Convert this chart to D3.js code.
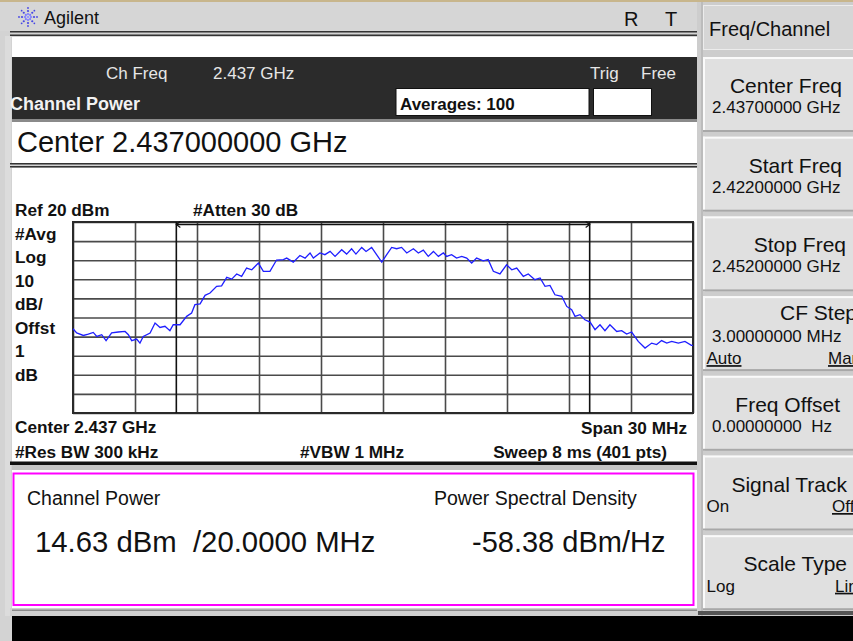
<!DOCTYPE html>
<html>
<head>
<meta charset="utf-8">
<script src="https://cdn.jsdelivr.net/npm/d3@7"></script>
<style>
  body { margin: 0; background: #d3d3d3; }
  text { font-family: "Liberation Sans", Arial, sans-serif; }
</style>
</head>
<body>
<div id="chart"></div>
<script>
// sweep settings
const startMHz = 2422, stopMHz = 2452;
const chanLoMHz = 2427, chanHiMHz = 2447;
const refDbm = 20, dbPerDiv = 10, nDiv = 10;

// trace, offset from start freq (MHz) and level (dBm)
const traceOffsetMHz = [
  0.00, 0.18, 0.50, 0.74, 0.98, 1.15, 1.39, 1.60, 1.87, 2.19,
  2.52, 2.68, 2.84, 3.08, 3.24, 3.40, 3.73, 3.97, 4.21, 4.45,
  4.69, 4.85, 5.18, 5.50, 5.74, 5.90, 6.15, 6.39, 6.63, 6.95,
  7.19, 7.44, 7.68, 7.92, 8.16, 8.40, 8.65, 8.97, 9.21, 9.53,
  9.85, 10.18, 10.34, 10.66, 10.98, 11.23, 11.47, 11.63, 11.95, 12.19,
  12.44, 12.68, 13.00, 13.24, 13.48, 13.69, 13.97, 14.18, 14.45, 14.69,
  14.94, 15.18, 15.42, 15.66, 15.90, 16.15, 16.47, 16.71, 16.95, 17.19,
  17.44, 17.68, 17.92, 18.08, 18.32, 18.56, 18.81, 19.05, 19.29, 19.53,
  19.85, 20.09, 20.34, 20.66, 20.98, 21.23, 21.47, 21.79, 22.03, 22.35,
  22.60, 22.84, 23.08, 23.32, 23.65, 23.89, 24.13, 24.29, 24.53, 24.77,
  25.02, 25.26, 25.50, 25.74, 25.98, 26.31, 26.55, 26.79, 27.03, 27.35,
  27.68, 28.00, 28.24, 28.48, 28.73, 28.97, 29.29, 29.61, 29.92, 30.00
];
const traceDbm = [
  -35.9, -38.1, -39.4, -38.7, -37.8, -39.9, -39.0, -42.1, -38.1, -37.6,
  -37.3, -39.0, -42.1, -41.3, -43.4, -39.9, -38.1, -32.9, -35.2, -34.6,
  -36.9, -33.8, -33.8, -29.4, -27.7, -23.3, -22.9, -18.4, -17.2, -13.7,
  -13.4, -9.0, -9.9, -7.2, -8.5, -4.1, -5.0, -1.5, -5.8, -5.8,
  0.1, 0.3, 1.1, -1.0, 2.5, 1.1, 3.8, 1.1, 3.8, 2.9,
  4.6, 2.0, 5.5, 3.2, 6.0, 3.2, 6.7, 4.6, 6.7, 2.9,
  -1.0, 2.9, 6.7, 6.0, 6.7, 3.8, 6.0, 3.8, 5.3, 2.0,
  4.6, 2.0, 3.8, 2.0, 2.9, 1.1, 2.0, 1.1, -1.5, 1.1,
  -0.3, 0.3, -5.8, -7.2, -2.4, -5.0, -4.1, -8.5, -7.2, -10.2,
  -9.3, -13.7, -13.2, -18.1, -18.9, -24.2, -25.9, -29.4, -28.5, -31.2,
  -32.4, -36.4, -33.8, -36.9, -33.8, -37.3, -36.9, -38.7, -37.6, -42.5,
  -46.0, -43.4, -44.2, -42.1, -43.4, -42.5, -43.4, -42.5, -44.6, -44.6
];

const leftLabels = ["#Avg", "Log", "10", "dB/", "Offst", "1", "dB"];

const softkeys = [
  { title: "Center Freq", end: 842, value: "2.43700000 GHz" },
  { title: "Start Freq", end: 842, value: "2.42200000 GHz" },
  { title: "Stop Freq", end: 846, value: "2.45200000 GHz" },
  { title: "CF Step", end: 857, value: "3.00000000 MHz", left: "Auto", right: "Man", ulLeft: true, ulRight: true },
  { title: "Freq Offset", end: 840, value: "0.00000000  Hz" },
  { title: "Signal Track", end: 847, left: "On", right: "Off", ulLeft: false, ulRight: true },
  { title: "Scale Type", end: 847, left: "Log", right: "Lin", ulLeft: false, ulRight: true }
];

const W = 853, H = 641;
const svg = d3.select("#chart").append("svg")
  .attr("width", W).attr("height", H)
  .style("display", "block");

// ---- frame / background ----
svg.append("rect").attr("width", W).attr("height", H).attr("fill", "#d3d3d3");
svg.append("rect").attr("width", W).attr("height", 2).attr("fill", "#c8b68c");
svg.append("rect").attr("x", 0).attr("y", 2).attr("width", 700).attr("height", 29).attr("fill", "#d6d6d6");
svg.append("rect").attr("x", 5).attr("y", 36).attr("width", 6).attr("height", 580).attr("fill", "#dcdcdc");

// title bar lines
svg.append("rect").attr("x", 10).attr("y", 31).attr("width", 690).attr("height", 1.5).attr("fill", "#333");
svg.append("rect").attr("x", 10).attr("y", 34.5).attr("width", 690).attr("height", 1.5).attr("fill", "#333");

// Agilent logo (dot starburst)
const logo = svg.append("g").attr("transform", "translate(28,17)");
d3.range(8).forEach(k => {
  const a = k * Math.PI / 4;
  [3, 6, 9].forEach((r, j) => {
    logo.append("circle")
      .attr("cx", Math.cos(a) * r).attr("cy", Math.sin(a) * r)
      .attr("r", j === 2 ? 0.9 : 1.1)
      .attr("fill", j === 0 ? "#7b7bff" : "#4646e6");
  });
});
logo.append("circle").attr("r", 1.3).attr("fill", "#9a9aff");
svg.append("text").attr("x", 44).attr("y", 24).attr("font-size", 18).attr("fill", "#111").text("Agilent");
svg.append("text").attr("x", 624).attr("y", 26).attr("font-size", 20).attr("fill", "#111").text("R");
svg.append("text").attr("x", 665).attr("y", 26).attr("font-size", 20).attr("fill", "#111").text("T");

// white strip
svg.append("rect").attr("x", 12).attr("y", 37).attr("width", 685).attr("height", 20).attr("fill", "#fff");

// dark status bar
svg.append("rect").attr("x", 12).attr("y", 57).attr("width", 685).attr("height", 62).attr("fill", "#2b2b2b");
svg.append("rect").attr("x", 12).attr("y", 119).attr("width", 685).attr("height", 3).attr("fill", "#8a8a8a");
const barTxt = [
  { t: "Ch Freq", x: 106 }, { t: "2.437 GHz", x: 213 },
  { t: "Trig", x: 590 }, { t: "Free", x: 641 }
];
svg.selectAll(".bartxt").data(barTxt).join("text")
  .attr("x", d => d.x).attr("y", 79)
  .attr("font-size", 17).attr("fill", "#e6e6e6").text(d => d.t);
svg.append("text").attr("x", 10).attr("y", 110).attr("font-size", 18)
  .attr("font-weight", "bold").attr("fill", "#f2f2f2").text("Channel Power");
svg.append("rect").attr("x", 396).attr("y", 88.5).attr("width", 193).attr("height", 27)
  .attr("fill", "#fff").attr("stroke", "#111").attr("stroke-width", 1);
svg.append("rect").attr("x", 593.5).attr("y", 88.5).attr("width", 58).attr("height", 27)
  .attr("fill", "#fff").attr("stroke", "#111").attr("stroke-width", 1);
svg.append("text").attr("x", 400).attr("y", 110).attr("font-size", 17)
  .attr("font-weight", "bold").attr("fill", "#111").text("Averages: 100");

// center freq box
svg.append("rect").attr("x", 12).attr("y", 122).attr("width", 685).attr("height", 41).attr("fill", "#fff");
svg.append("text").attr("x", 17).attr("y", 152).attr("font-size", 29).attr("fill", "#111")
  .text("Center 2.437000000 GHz");
svg.append("rect").attr("x", 10).attr("y", 163).attr("width", 690).attr("height", 1.5).attr("fill", "#333");
svg.append("rect").attr("x", 10).attr("y", 166).attr("width", 690).attr("height", 1.5).attr("fill", "#333");

// plot area background
svg.append("rect").attr("x", 12).attr("y", 168).attr("width", 685).attr("height", 294).attr("fill", "#fff");

// ---- graticule ----
const x = d3.scaleLinear().domain([startMHz, stopMHz]).range([73, 693]);
const y = d3.scaleLinear().domain([refDbm - nDiv * dbPerDiv, refDbm]).range([413, 222]);
const gridF = d3.range(nDiv + 1).map(i => startMHz + i * (stopMHz - startMHz) / nDiv);

const plotH = y.range()[0] - y.range()[1];
const plotW = x.range()[1] - x.range()[0];

const gx = svg.append("g").attr("transform", `translate(0,${y.range()[0]})`)
  .call(d3.axisBottom(x).tickValues(gridF).tickSize(-plotH).tickFormat(""));
const gy = svg.append("g").attr("transform", `translate(${x.range()[0]},0)`)
  .call(d3.axisLeft(y).ticks(nDiv).tickSize(-plotW).tickFormat(""));
[gx, gy].forEach(g => {
  g.select(".domain").remove();
  g.selectAll(".tick line").attr("stroke", "#4a4a4a").attr("stroke-width", 1.6);
});
svg.append("rect")
  .attr("x", x.range()[0]).attr("y", y.range()[1])
  .attr("width", plotW).attr("height", plotH)
  .attr("fill", "none").attr("stroke", "#2a2a2a").attr("stroke-width", 2);

// channel bandwidth markers
svg.selectAll(".chan").data([chanLoMHz, chanHiMHz]).join("line")
  .attr("x1", d => x(d)).attr("x2", d => x(d))
  .attr("y1", y.range()[1]).attr("y2", y.range()[0])
  .attr("stroke", "#111").attr("stroke-width", 1.6);
const ay = y.range()[1] + 2.5;
svg.append("line").attr("x1", x(chanLoMHz)).attr("x2", x(chanHiMHz))
  .attr("y1", ay).attr("y2", ay).attr("stroke", "#111").attr("stroke-width", 1.3);
svg.append("path")
  .attr("d", `M${x(chanLoMHz) + 4},${ay - 3}L${x(chanLoMHz)},${ay}L${x(chanLoMHz) + 4},${ay + 3}`)
  .attr("fill", "none").attr("stroke", "#111").attr("stroke-width", 1.2);
svg.append("path")
  .attr("d", `M${x(chanHiMHz) - 4},${ay - 3}L${x(chanHiMHz)},${ay}L${x(chanHiMHz) - 4},${ay + 3}`)
  .attr("fill", "none").attr("stroke", "#111").attr("stroke-width", 1.2);

// trace
const trace = traceOffsetMHz.map((f, i) => ({ f: startMHz + f, v: traceDbm[i] }));
svg.append("path").datum(trace)
  .attr("d", d3.line().x(d => x(d.f)).y(d => y(d.v)))
  .attr("fill", "none").attr("stroke", "#1f1fff").attr("stroke-width", 1.3);

// plot annotations
const bold = (xp, yp, t, anchor) => svg.append("text")
  .attr("x", xp).attr("y", yp).attr("font-size", 17.2).attr("font-weight", "bold")
  .attr("fill", "#111").attr("text-anchor", anchor || "start").text(t);
bold(15, 216, "Ref 20 dBm");
bold(193, 216, "#Atten 30 dB");
svg.selectAll(".lbl").data(leftLabels).join("text")
  .attr("x", 15).attr("y", (d, i) => 239.5 + i * 23.5)
  .attr("font-size", 17.2).attr("font-weight", "bold").attr("fill", "#111").text(d => d);
bold(15, 433, "Center 2.437 GHz");
bold(687, 434, "Span 30 MHz", "end");
bold(15, 458, "#Res BW 300 kHz");
bold(300, 458, "#VBW 1 MHz");
bold(667, 458, "Sweep 8 ms (401 pts)", "end");

svg.append("rect").attr("x", 10).attr("y", 461.5).attr("width", 690).attr("height", 3.5).attr("fill", "#111");
svg.append("rect").attr("x", 12).attr("y", 465).attr("width", 685).attr("height", 5).attr("fill", "#c4c4c4");

// ---- results box ----
svg.append("rect").attr("x", 12).attr("y", 470).attr("width", 685).attr("height", 138).attr("fill", "#fff");
svg.append("rect").attr("x", 13.5).attr("y", 473.5).attr("width", 680).attr("height", 131.5)
  .attr("fill", "#fff").attr("stroke", "#ff00ff").attr("stroke-width", 2);
const res = [
  { t: "Channel Power", x: 27, y: 505, s: 19.5 },
  { t: "Power Spectral Density", x: 434, y: 505, s: 19.5 },
  { t: "14.63 dBm  /20.0000 MHz", x: 35, y: 552, s: 29.3 },
  { t: "-58.38 dBm/Hz", x: 472, y: 552, s: 29 }
];
svg.selectAll(".res").data(res).join("text")
  .attr("x", d => d.x).attr("y", d => d.y).attr("font-size", d => d.s)
  .attr("fill", "#111").style("white-space", "pre").text(d => d.t);

svg.append("rect").attr("x", 10).attr("y", 608).attr("width", 690).attr("height", 8).attr("fill", "#d0d0d0");
svg.append("rect").attr("x", 12).attr("y", 609.5).attr("width", 685).attr("height", 1.5).attr("fill", "#8a8a8a");

// ---- softkey panel ----
svg.append("rect").attr("x", 697).attr("y", 2).attr("width", 156).attr("height", 614).attr("fill", "#cdcdcd");
svg.append("rect").attr("x", 701).attr("y", 2).attr("width", 2).attr("height", 614).attr("fill", "#bcbcbc");
svg.append("rect").attr("x", 703.5).attr("y", 5.5).attr("width", 160).attr("height", 44)
  .attr("fill", "#d6d6d6").attr("stroke", "#ececec").attr("stroke-width", 1);
svg.append("text").attr("x", 709).attr("y", 36).attr("font-size", 20).attr("fill", "#111").text("Freq/Channel");

const keyTop = i => 57 + i * 79.7;
const keys = svg.selectAll(".key").data(softkeys).join("g")
  .attr("transform", (d, i) => `translate(0,${keyTop(i)})`);
keys.append("rect").attr("x", 703).attr("y", 0).attr("width", 160).attr("height", 75).attr("fill", "#e0e0e0");
keys.append("rect").attr("x", 703).attr("y", 0).attr("width", 160).attr("height", 2).attr("fill", "#fafafa");
keys.append("rect").attr("x", 703).attr("y", 0).attr("width", 2).attr("height", 75).attr("fill", "#fafafa");
keys.append("rect").attr("x", 703).attr("y", 73).attr("width", 160).attr("height", 2).attr("fill", "#a8a8a8");
keys.append("text")
  .attr("x", d => d.end).attr("y", d => d.value && d.left ? 23.5 : 36)
  .attr("text-anchor", "end").attr("font-size", 21).attr("fill", "#111").text(d => d.title);
keys.filter(d => d.value).append("text")
  .attr("x", 712).attr("y", d => d.left ? 46 : 56)
  .attr("font-size", 17).attr("fill", "#111").style("white-space", "pre").text(d => d.value);
keys.filter(d => d.left).append("text")
  .attr("x", 706.5).attr("y", d => d.value ? 68 : 56.5)
  .attr("font-size", 17).attr("fill", "#111")
  .attr("text-decoration", d => d.ulLeft ? "underline" : "none").text(d => d.left);
keys.filter(d => d.right).append("text")
  .attr("x", d => d.right === "Man" ? 828 : (d.right === "Off" ? 832 : 835))
  .attr("y", d => d.value ? 68 : 56.5)
  .attr("font-size", 17).attr("fill", "#111")
  .attr("text-decoration", d => d.ulRight ? "underline" : "none").text(d => d.right);

svg.append("rect").attr("x", 698).attr("y", 611).attr("width", 155).attr("height", 4).attr("fill", "#555");

// bottom black bar
svg.append("rect").attr("x", 12).attr("y", 616).attr("width", W - 12).attr("height", H - 616).attr("fill", "#000");
</script>
</body>
</html>
